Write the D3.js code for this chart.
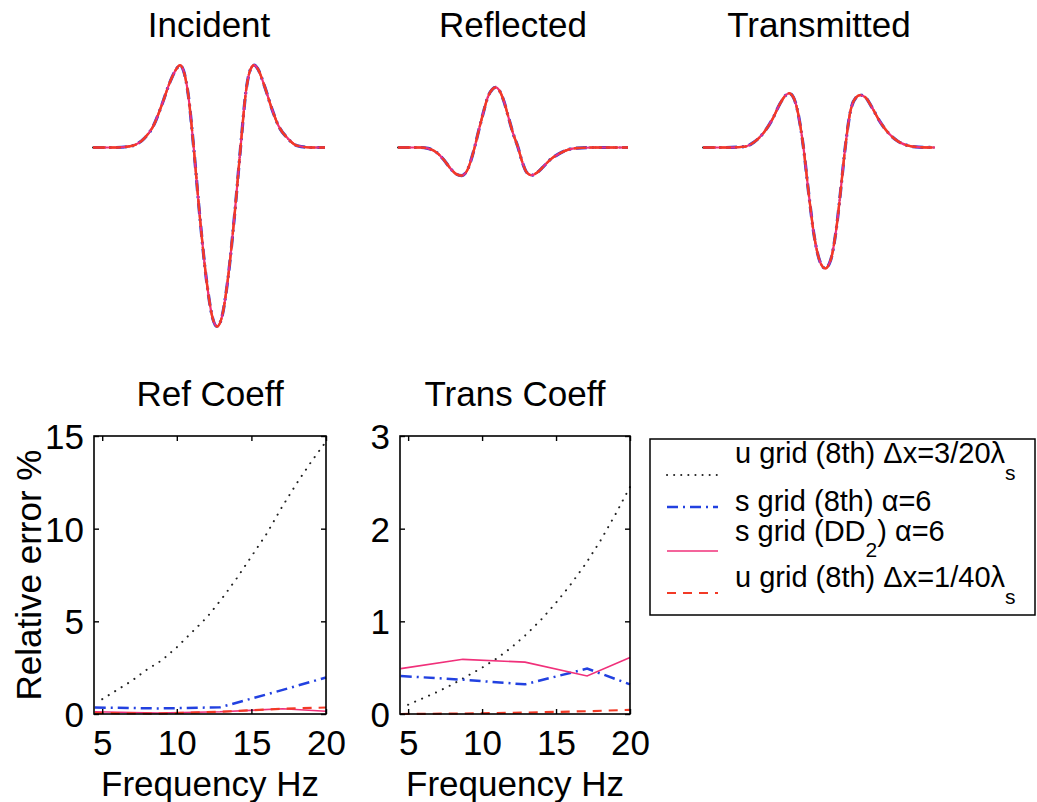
<!DOCTYPE html>
<html><head><meta charset="utf-8">
<script src="https://cdn.jsdelivr.net/npm/d3@7"></script>
<style>
body{margin:0;background:#fff}
svg{display:block}
text{font-family:"Liberation Sans",Arial,Helvetica,sans-serif;fill:#000}
</style></head>
<body><svg id="c" width="1037" height="802"></svg>
<script>
// ---------- DATA ----------
const topTitles = ["Incident", "Reflected", "Transmitted"];

// wavelet samples (time in arbitrary units 0..100, amplitude normalised to incident trough)
const incT   = [0,10,17,22,26,30,33,36,37.5,39,41,43.4,46,49,51.5,53.5,55.5,58,61,63.6,66,68,69.5,71,74,77,80,84,88,94,100];
const incAmp = [0,0,0.01,0.05,0.12,0.25,0.36,0.44,0.46,0.43,0.30,0,-0.38,-0.75,-0.95,-1.0,-0.95,-0.75,-0.38,0,0.32,0.44,0.46,0.44,0.34,0.22,0.12,0.05,0.01,0,0];

const refT   = [0,10,13,17,20,23,25.5,27.6,30,32,33.3,35,37,39,41,42.5,44,46,48,50,52.2,54,56,58,60.5,63,66,70,74,78,85,100];
const refAmp = [0,0,-0.005,-0.03,-0.07,-0.12,-0.15,-0.157,-0.13,-0.06,0,0.09,0.19,0.28,0.325,0.336,0.32,0.26,0.17,0.08,0,-0.08,-0.14,-0.155,-0.14,-0.11,-0.07,-0.035,-0.012,-0.003,0,0];

const trnT   = [0,10,18,22,26,30,33,35.5,37.1,39,41,43.3,45.5,48,50.5,52.7,55,57.5,59.5,61.3,63.5,66,67.8,70,73,76,80,84,88,93,100];
const trnAmp = [0,0,0.005,0.03,0.08,0.16,0.24,0.29,0.303,0.28,0.19,0,-0.25,-0.5,-0.64,-0.675,-0.63,-0.45,-0.22,0,0.2,0.28,0.293,0.28,0.22,0.15,0.08,0.035,0.012,0.002,0];

// error curves
const freqDense = [5,6,7,8,9,10,11,12,13,14,15,16,17,18,19,20];
const refUCoarse   = [0.8,1.3,1.8,2.4,2.9,3.6,4.4,5.2,6.2,7.3,8.5,9.7,11.1,12.4,13.6,14.7];
const transUCoarse = [0.10,0.17,0.24,0.32,0.41,0.50,0.60,0.72,0.86,1.02,1.20,1.40,1.62,1.87,2.15,2.45];

const freqSparse = [4.5,8.7,12.9,17.1,20];
const refS8   = [0.35,0.30,0.36,1.30,1.97];
const refSDD  = [0.12,0.05,0.12,0.28,0.15];
const refUFine= [0.05,0.02,0.12,0.28,0.35];
const transS8   = [0.41,0.37,0.32,0.49,0.32];
const transSDD  = [0.49,0.59,0.56,0.41,0.61];
const transUFine= [0.0,0.005,0.015,0.03,0.045];

const xTicks = [5,10,15,20];
const refYTicks = [0,5,10,15];
const transYTicks = [0,1,2,3];

const legendLabels = [
  {main:"u grid (8th) \u0394x=3/20\u03bb", sub:"s", after:""},
  {main:"s grid (8th) \u03b1=6", sub:"", after:""},
  {main:"s grid (DD", sub:"2", after:") \u03b1=6"},
  {main:"u grid (8th) \u0394x=1/40\u03bb", sub:"s", after:""}
];

// ---------- STYLES ----------
const styles = {
  ucoarse:{stroke:"#222", width:2, dash:"0.1 7.5", cap:"round"},
  s8:     {stroke:"#2241e0", width:2.5, dash:"11 5 2 5", cap:"butt"},
  sdd:    {stroke:"#f0307a", width:1.6, dash:null, cap:"butt"},
  ufine:  {stroke:"#f23a26", width:2.2, dash:"9 7", cap:"butt"}
};
const order = ["ucoarse","s8","sdd","ufine"];

const svg = d3.select("#c");
const FONT = 35;

function styled(path, st){
  path.attr("fill","none").attr("stroke",st.stroke).attr("stroke-width",st.width)
      .attr("stroke-linecap",st.cap);
  if(st.dash) path.attr("stroke-dasharray",st.dash);
  return path;
}

// ---------- TOP WAVELETS ----------
const panels = [
  {x0:93, x1:325, t:incT, a:incAmp, title:topTitles[0]},
  {x0:398, x1:628, t:refT, a:refAmp, title:topTitles[1]},
  {x0:703, x1:935, t:trnT, a:trnAmp, title:topTitles[2]}
];
const yW = d3.scaleLinear().domain([-1,1]).range([147.5+179, 147.5-179]);
const topStyles = {
  ucoarse:{stroke:"#222", width:2, dash:"0.1 6", cap:"round"},
  s8:     {stroke:"#2a3fd0", width:3.2, dash:"11 5 2 5", cap:"butt"},
  sdd:    {stroke:"#f0307a", width:2.2, dash:null, cap:"butt"},
  ufine:  {stroke:"#f23a26", width:2.4, dash:"12 4", cap:"butt"}
};
panels.forEach(p=>{
  const x = d3.scaleLinear().domain([0,100]).range([p.x0,p.x1]);
  const pts = p.t.map((t,i)=>[t,p.a[i]]);
  const line = d3.line().x(d=>x(d[0])).y(d=>yW(d[1])).curve(d3.curveMonotoneX);
  order.forEach(k=>{
    styled(svg.append("path").datum(pts).attr("d",line), topStyles[k]);
  });
  svg.append("text").attr("x",(p.x0+p.x1)/2).attr("y",37).attr("text-anchor","middle")
     .attr("font-size",FONT).text(p.title);
});

// ---------- ERROR PLOTS ----------
function errPlot(cfg){
  const x = d3.scaleLinear().domain([4.45,20]).range([cfg.x0,cfg.x1]);
  const y = d3.scaleLinear().domain([0,cfg.ymax]).range([714,436]);
  const g = svg.append("g");
  const clipId = "clip"+cfg.id;
  svg.append("clipPath").attr("id",clipId).append("rect")
     .attr("x",cfg.x0).attr("y",434).attr("width",cfg.x1-cfg.x0+1).attr("height",282);
  const line = d3.line().x(d=>x(d[0])).y(d=>y(d[1]));
  const series = [
    {k:"ucoarse", f:freqDense, v:cfg.uc},
    {k:"s8", f:freqSparse, v:cfg.s8},
    {k:"sdd", f:freqSparse, v:cfg.sdd},
    {k:"ufine", f:freqSparse, v:cfg.uf}
  ];
  series.forEach(s=>{
    const pts = s.f.map((f,i)=>[f,s.v[i]]);
    styled(g.append("path").datum(pts).attr("d",line).attr("clip-path",`url(#${clipId})`), styles[s.k]);
  });
  g.append("rect").attr("x",cfg.x0).attr("y",436).attr("width",cfg.x1-cfg.x0).attr("height",278)
   .attr("fill","none").attr("stroke","#000").attr("stroke-width",1.6);
  const ax = d3.axisBottom(x).tickValues(xTicks).tickSize(-5).tickPadding(15).tickFormat(d3.format("d"));
  const axG = g.append("g").attr("transform","translate(0,714)").call(ax);
  const axT = g.append("g").attr("transform","translate(0,436)").call(d3.axisTop(x).tickValues(xTicks).tickSize(-5).tickFormat(""));
  const ay = d3.axisLeft(y).tickValues(cfg.yTicks).tickSize(-5).tickPadding(10).tickFormat(d3.format("d"));
  const ayG = g.append("g").attr("transform",`translate(${cfg.x0},0)`).call(ay);
  const ayR = g.append("g").attr("transform",`translate(${cfg.x1},0)`).call(d3.axisRight(y).tickValues(cfg.yTicks).tickSize(-5).tickFormat(""));
  [axG,axT,ayG,ayR].forEach(a=>{
    a.select(".domain").remove();
    a.selectAll(".tick line").attr("stroke","#000").attr("stroke-width",1.4);
    a.selectAll("text").attr("font-size",FONT).attr("font-family",'"Liberation Sans",Arial,sans-serif').attr("fill","#000");
  });
  axG.selectAll("text").attr("dy","0.75em");
  ayG.selectAll("text").attr("dy","0.36em");
  g.append("text").attr("x",(cfg.x0+cfg.x1)/2).attr("y",406).attr("text-anchor","middle")
   .attr("font-size",FONT).text(cfg.title);
  g.append("text").attr("x",(cfg.x0+cfg.x1)/2).attr("y",796).attr("text-anchor","middle")
   .attr("font-size",FONT).text("Frequency Hz");
}
errPlot({id:1,x0:94,x1:326,ymax:15,yTicks:refYTicks,uc:refUCoarse,s8:refS8,sdd:refSDD,uf:refUFine,title:"Ref Coeff"});
errPlot({id:2,x0:400,x1:630,ymax:3,yTicks:transYTicks,uc:transUCoarse,s8:transS8,sdd:transSDD,uf:transUFine,title:"Trans Coeff"});

svg.append("text").attr("transform","translate(41,575) rotate(-90)").attr("text-anchor","middle")
   .attr("font-size",FONT).text("Relative error %");

// ---------- LEGEND ----------
const lg = svg.append("g");
lg.append("rect").attr("x",650).attr("y",439).attr("width",385).attr("height",176)
  .attr("fill","#fff").attr("stroke","#000").attr("stroke-width",1.5);
const legY = [{line:475, text:463, sub:480},{line:507,text:511,sub:0},{line:551,text:541,sub:557},{line:593,text:587,sub:604}];
order.forEach((k,i)=>{
  const ls = Object.assign({}, styles[k]);
  if(k==="ucoarse") ls.dash="0.1 7";
  styled(lg.append("path").attr("d",d3.line()([[667,legY[i].line],[718,legY[i].line]])), ls);
  const t = lg.append("text").attr("x",735).attr("y",legY[i].text).attr("font-size",29);
  const L = legendLabels[i];
  t.append("tspan").text(L.main);
  if(L.sub){
    t.append("tspan").attr("font-size",21).attr("dy",legY[i].sub-legY[i].text).text(L.sub);
  }
  if(L.after){
    t.append("tspan").attr("dy",legY[i].text-legY[i].sub).text(L.after);
  }
});
</script></body></html>
